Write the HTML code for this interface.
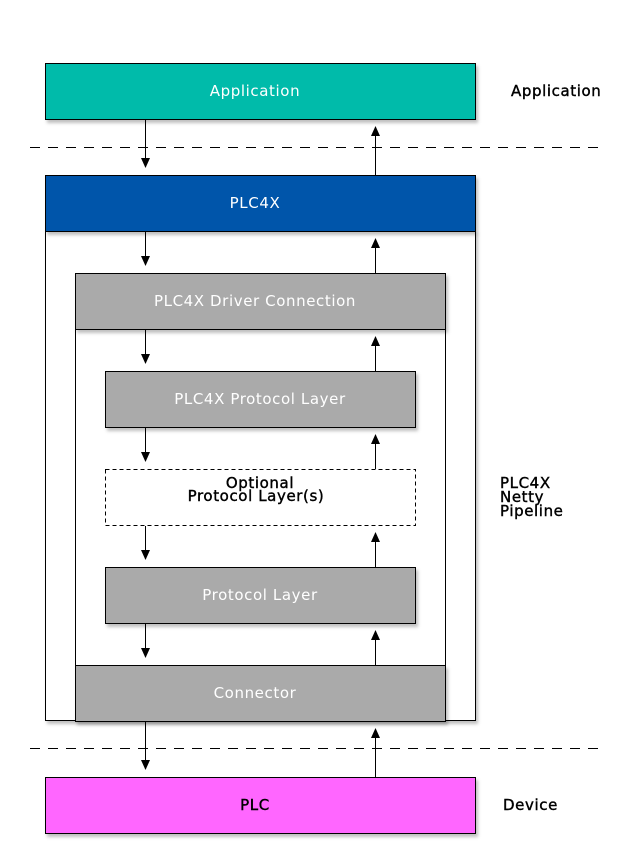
<!DOCTYPE html>
<html><head><meta charset="utf-8"><style>
html,body{margin:0;padding:0;background:#fff;}
svg{display:block;}
text{font-family:"DejaVu Sans","Liberation Sans",sans-serif;font-size:15px;letter-spacing:0.6px;}
.b{stroke:#000;stroke-width:0.4px;}
</style></head><body>
<svg width="630" height="868" viewBox="0 0 630 868" xmlns="http://www.w3.org/2000/svg">
<defs>
<filter id="sh" x="-5%" y="-5%" width="110%" height="130%"><feDropShadow dx="2" dy="3" stdDeviation="1.5" flood-color="#000" flood-opacity="0.25"/></filter>
<marker id="ah" markerWidth="10" markerHeight="10" refX="9" refY="4.5" orient="auto" markerUnits="userSpaceOnUse"><path d="M0,0 L10,4.5 L0,9 Z" fill="#000"/></marker>
</defs>
<line x1="30" y1="147.5" x2="600" y2="147.5" stroke="#000" stroke-dasharray="10,8"/>
<line x1="30" y1="748.5" x2="600" y2="748.5" stroke="#000" stroke-dasharray="10,8"/>
<rect x="45.5" y="231.5" width="430" height="489" fill="#fff" stroke="#000" filter="url(#sh)"/>
<rect x="75.5" y="329.5" width="370" height="336" fill="#fff" stroke="#000"/>
<rect x="45.5" y="63.5" width="430" height="56" fill="#00bbaa" stroke="#000" filter="url(#sh)"/>
<rect x="45.5" y="175.5" width="430" height="56" fill="#0055aa" stroke="#000" filter="url(#sh)"/>
<rect x="75.5" y="273.5" width="370" height="56" fill="#aaaaaa" stroke="#000" filter="url(#sh)"/>
<rect x="105.5" y="371.5" width="310" height="56" fill="#aaaaaa" stroke="#000" filter="url(#sh)"/>
<rect x="105.5" y="469.5" width="310" height="56" fill="#fff" stroke="#000" stroke-dasharray="4,3"/>
<rect x="105.5" y="567.5" width="310" height="56" fill="#aaaaaa" stroke="#000" filter="url(#sh)"/>
<rect x="75.5" y="665.5" width="370" height="56" fill="#aaaaaa" stroke="#000" filter="url(#sh)"/>
<rect x="45.5" y="777.5" width="430" height="56" fill="#ff66ff" stroke="#000" filter="url(#sh)"/>
<g stroke="#000" stroke-width="1" marker-end="url(#ah)">
<line x1="145.5" y1="120" x2="145.5" y2="167"/>
<line x1="145.5" y1="232" x2="145.5" y2="265"/>
<line x1="145.5" y1="330" x2="145.5" y2="363"/>
<line x1="145.5" y1="428" x2="145.5" y2="461"/>
<line x1="145.5" y1="526" x2="145.5" y2="559"/>
<line x1="145.5" y1="624" x2="145.5" y2="657"/>
<line x1="145.5" y1="722" x2="145.5" y2="769"/>
<line x1="375.5" y1="175" x2="375.5" y2="127"/>
<line x1="375.5" y1="273" x2="375.5" y2="239"/>
<line x1="375.5" y1="371" x2="375.5" y2="337"/>
<line x1="375.5" y1="469" x2="375.5" y2="435"/>
<line x1="375.5" y1="567" x2="375.5" y2="533"/>
<line x1="375.5" y1="665" x2="375.5" y2="631"/>
<line x1="375.5" y1="777" x2="375.5" y2="729"/>
</g>
<g text-anchor="middle">
<text x="255" y="96" fill="#fff">Application</text>
<text x="255" y="208" fill="#fff">PLC4X</text>
<text x="255" y="306" fill="#fff">PLC4X Driver Connection</text>
<text x="260" y="404" fill="#fff">PLC4X Protocol Layer</text>
<text x="260" y="488" fill="#000" class="b">Optional</text>
<text x="256" y="501" fill="#000" class="b">Protocol Layer(s)</text>
<text x="260" y="600" fill="#fff">Protocol Layer</text>
<text x="255" y="698" fill="#fff">Connector</text>
<text x="255" y="810" fill="#000" class="b">PLC</text>
</g>
<text x="511" y="96" fill="#000" class="b">Application</text>
<text x="500" y="488" fill="#000" class="b">PLC4X</text>
<text x="500" y="502" fill="#000" class="b">Netty</text>
<text x="500" y="516" fill="#000" class="b">Pipeline</text>
<text x="503" y="810" fill="#000" class="b">Device</text>
</svg>
</body></html>
